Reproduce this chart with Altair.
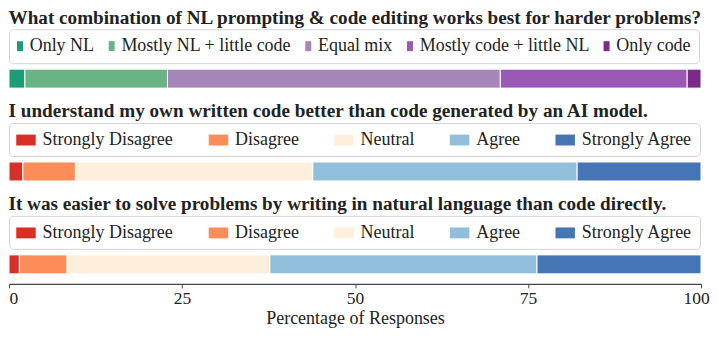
import altair as alt
import pandas as pd

# ---------------- data ----------------
q1_title = "What combination of NL prompting & code editing works best for harder problems?"
q1_cats = ["Only NL", "Mostly NL + little code", "Equal mix", "Mostly code + little NL", "Only code"]
q1_vals = [2.3, 20.6, 48.1, 27.0, 2.0]
q1_colors = ["#1b9e77", "#69b386", "#a686b9", "#9b59b6", "#7a2b87"]

likert_cats = ["Strongly Disagree", "Disagree", "Neutral", "Agree", "Strongly Agree"]
likert_colors = ["#d73027", "#fc8d59", "#fdefdc", "#91bfdb", "#4575b4"]

q2_title = "I understand my own written code better than code generated by an AI model."
q2_vals = [2.0, 7.6, 34.3, 38.2, 17.9]

q3_title = "It was easier to solve problems by writing in natural language than code directly."
q3_vals = [1.5, 6.9, 29.3, 38.6, 23.7]

x_ticks = [0, 25, 50, 75, 100]
x_title = "Percentage of Responses"

# ---------------- style ----------------
FONT = "Liberation Serif"
TXT = "#222222"
W = 693
BAR_H = 19

narrow_sym = "M-0.333,-0.556H0.333V0.556H-0.333Z"   # narrow patch (first legend)
wide_sym = "M-1,-0.56H1V0.56H-1Z"                   # wide patch (likert legends)


def panel(title, cats, vals, colors, sym, sym_size, sym_off, col_pad, leg_pad, lab_off, show_axis):
    df = pd.DataFrame({"cat": cats, "val": vals, "order": list(range(len(cats))), "q": title})
    if show_axis:
        x_axis = alt.Axis(
            values=x_ticks, format="d", grid=False,
            tickSize=4, tickColor="#444444", tickWidth=1,
            domainColor="#444444", domainWidth=1.3,
            labelFont=FONT, labelFontSize=17.5, labelColor=TXT, labelPadding=2,
            labelAlign={"condition": {"test": "datum.value == 0", "value": "left"}, "value": "center"},
            labelOffset={"condition": {"test": "datum.value == 100", "value": -5}, "value": 0},
            title=x_title, titleFont=FONT, titleFontSize=18, titleFontWeight="normal",
            titleColor=TXT, titlePadding=2, offset=10,
        )
    else:
        x_axis = None
    return (
        alt.Chart(
            df,
            title=alt.TitleParams(text=title, anchor="start", font=FONT, fontSize=19.2,
                                  fontWeight="bold", color=TXT, offset=1),
        )
        .mark_bar(stroke="white", strokeWidth=1)
        .encode(
            x=alt.X("val:Q", stack="zero", axis=x_axis,
                    scale=alt.Scale(domain=[0, 100], nice=False)),
            y=alt.Y("q:N", axis=None, scale=alt.Scale(paddingInner=0, paddingOuter=0)),
            color=alt.Color(
                "cat:N", sort=cats,
                scale=alt.Scale(domain=cats, range=colors),
                legend=alt.Legend(
                    title=None, orient="top", direction="horizontal", columns=5,
                    gridAlign="none",
                    symbolType=sym, symbolSize=sym_size, symbolStrokeWidth=0,
                    symbolOffset=sym_off,
                    labelFont=FONT, labelFontSize=18, labelColor=TXT,
                    labelOffset={"expr": str(lab_off)},
                    labelLimit=0, columnPadding=col_pad, padding=leg_pad,
                    fillColor="white", strokeColor="#d4d4d4", cornerRadius=4, offset=6,
                ),
            ),
            order=alt.Order("order:Q"),
        )
        .properties(width=W, height=BAR_H)
    )


p1 = panel(q1_title, q1_cats, q1_vals, q1_colors, narrow_sym, 324, -6, 13.85, 8.0, 0.7, False)
p2 = panel(q2_title, likert_cats, q2_vals, likert_colors, wide_sym, 380, 0, 34.75, 7.0, 6.6, False)
p3 = panel(q3_title, likert_cats, q3_vals, likert_colors, wide_sym, 380, 0, 34.75, 7.0, 6.6, True)

chart = (
    alt.vconcat(p1, p2, p3, spacing=13)
    .resolve_scale(color="independent", x="independent")
    .resolve_legend(color="independent")
    .configure_view(stroke=None)
    .properties(padding=0)
)

chart.save("out.html", embed_options={"renderer": "svg", "actions": False})
